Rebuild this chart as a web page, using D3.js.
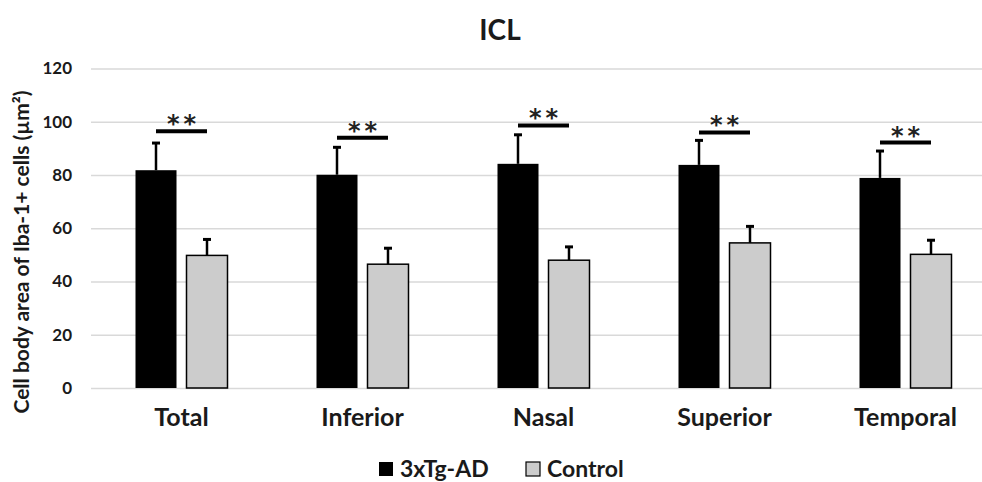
<!DOCTYPE html>
<head>
    <script src="https://cdn.jsdelivr.net/npm/d3@7"></script>
    <style>
        body { margin: 0; background: #fff; }
        text { font-family: Lato, "Open Sans", sans-serif; font-weight: bold; fill: #1a1a1a; }
        .grid line { stroke: #d9d9d9; stroke-width: 1.5; }
        .grid path { display: none; }
        .axis path, .axis line { display: none; }
        .err { stroke: #000; stroke-width: 2.5; }
        .cap { stroke: #000; stroke-width: 3; }
        .sig { stroke: #000; stroke-width: 4; }
        .stars { font-family: "DejaVu Sans", sans-serif; fill: #222; }
    </style>
</head>
<body>
<div id="chart"></div>
<script type="text/javascript">
    // values
    var regions = ["Total", "Inferior", "Nasal", "Superior", "Temporal"];
    var groups = ["3xTg-AD", "Control"];
    var tgMean = [81.8, 80.1, 84.2, 83.8, 78.9];
    var tgErr = [10.2, 10.3, 10.9, 9.2, 10.1];
    var ctlMean = [49.8, 46.5, 48.0, 54.5, 50.2];
    var ctlErr = [6.0, 6.0, 5.0, 6.2, 5.3];
    var sigLevel = [96.4, 94.0, 98.6, 96.0, 92.2];
    var sigLabel = ["**", "**", "**", "**", "**"];
    var yTicks = [0, 20, 40, 60, 80, 100, 120];
    var colors = {"3xTg-AD": "#000000", "Control": "#cccccc"};

    var W = 982, H = 482;
    var svg = d3.select("#chart").append("svg")
        .attr("width", W)
        .attr("height", H);

    var rows = regions.map(function (r, i) {
        return {
            region: r,
            vals: [
                {g: "3xTg-AD", v: tgMean[i], e: tgErr[i]},
                {g: "Control", v: ctlMean[i], e: ctlErr[i]}
            ],
            sig: sigLevel[i],
            label: sigLabel[i]
        };
    });

    var x0 = d3.scaleBand().domain(regions).range([91, 996]);
    var x1 = d3.scaleBand().domain(groups).range([0, x0.bandwidth()])
        .paddingInner(0.196).paddingOuter(0.8725);
    var y = d3.scaleLinear().domain([0, 120]).range([388, 68.5]);

    // gridlines
    svg.append("g")
        .attr("class", "grid")
        .attr("transform", "translate(91,0)")
        .call(d3.axisLeft(y).tickValues(yTicks).tickSize(-(996 - 91)).tickFormat(""));

    svg.append("g")
        .attr("class", "y axis")
        .attr("transform", "translate(91,0)")
        .call(d3.axisLeft(y).tickValues(yTicks).tickSize(0).tickPadding(19))
        .selectAll("text")
        .style("font-size", "17px");

    svg.append("g")
        .attr("class", "x axis")
        .attr("transform", "translate(0,388)")
        .call(d3.axisBottom(x0).tickSize(0).tickPadding(20))
        .selectAll("text")
        .style("font-size", "25px");

    var grp = svg.selectAll(".region").data(rows).enter()
        .append("g")
        .attr("class", "region")
        .attr("transform", function (d) { return "translate(" + x0(d.region) + ",0)"; });

    grp.selectAll(".err").data(function (d) { return d.vals; }).enter()
        .append("line")
        .attr("class", "err")
        .attr("x1", function (d) { return x1(d.g) + x1.bandwidth() / 2; })
        .attr("x2", function (d) { return x1(d.g) + x1.bandwidth() / 2; })
        .attr("y1", function (d) { return y(d.v); })
        .attr("y2", function (d) { return y(d.v + d.e); });

    grp.selectAll(".cap").data(function (d) { return d.vals; }).enter()
        .append("line")
        .attr("class", "cap")
        .attr("x1", function (d) { return x1(d.g) + x1.bandwidth() / 2 - 4; })
        .attr("x2", function (d) { return x1(d.g) + x1.bandwidth() / 2 + 4; })
        .attr("y1", function (d) { return y(d.v + d.e); })
        .attr("y2", function (d) { return y(d.v + d.e); });

    grp.selectAll("rect").data(function (d) { return d.vals; }).enter()
        .append("rect")
        .attr("x", function (d) { return x1(d.g); })
        .attr("width", x1.bandwidth())
        .attr("y", function (d) { return y(d.v); })
        .attr("height", function (d) { return y(0) - y(d.v); })
        .attr("fill", function (d) { return colors[d.g]; })
        .attr("stroke", "#000")
        .attr("stroke-width", function (d) { return d.g === "Control" ? 1.5 : 0; });

    // significance bars
    var sx = function (g) { return x1(g) + x1.bandwidth() / 2; };
    grp.append("line")
        .attr("class", "sig")
        .attr("x1", sx("3xTg-AD"))
        .attr("x2", sx("Control"))
        .attr("y1", function (d) { return y(d.sig); })
        .attr("y2", function (d) { return y(d.sig); });
    grp.append("text")
        .attr("class", "stars")
        .attr("x", (sx("3xTg-AD") + sx("Control")) / 2 + 2)
        .attr("y", function (d) { return y(d.sig) + 1; })
        .attr("text-anchor", "middle")
        .style("font-size", "24px")
        .style("letter-spacing", "4px")
        .text(function (d) { return d.label; });

    // title
    svg.append("text")
        .attr("x", 500)
        .attr("y", 40)
        .attr("text-anchor", "middle")
        .style("font-size", "28px")
        .text("ICL");

    // y title
    svg.append("text")
        .attr("transform", "translate(29,252) rotate(-90)")
        .attr("text-anchor", "middle")
        .style("font-size", "21px")
        .text("Cell body area of Iba-1+ cells (\u00b5m\u00b2)");

    // legend
    var leg = svg.selectAll(".legend").data(groups).enter()
        .append("g")
        .attr("class", "legend")
        .attr("transform", function (d, i) { return "translate(" + [379, 526][i] + ",462)"; });
    leg.append("rect")
        .attr("width", 14)
        .attr("height", 14)
        .attr("fill", function (d) { return colors[d]; })
        .attr("stroke", "#000")
        .attr("stroke-width", function (d) { return d === "Control" ? 1.2 : 0; });
    leg.append("text")
        .attr("x", 21)
        .attr("y", 15)
        .style("font-size", "23px")
        .text(function (d) { return d; });
</script>
</body>
</html>
